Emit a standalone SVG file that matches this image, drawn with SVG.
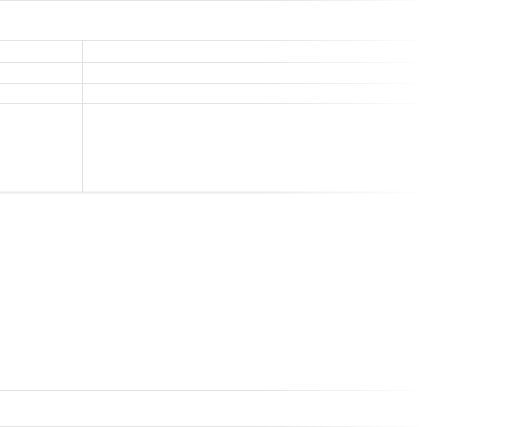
<svg xmlns="http://www.w3.org/2000/svg" width="521" height="427" viewBox="0 0 521 427">
<defs>
<linearGradient id="fade" gradientUnits="userSpaceOnUse" x1="0" y1="0" x2="521" y2="0">
<stop offset="0" stop-color="#e3e3e3" stop-opacity="1"/>
<stop offset="0.5" stop-color="#e3e3e3" stop-opacity="1"/>
<stop offset="0.82" stop-color="#e3e3e3" stop-opacity="0"/>
</linearGradient>
<style>
.ln{stroke:url(#fade);stroke-width:1;fill:none}
.thick{stroke-width:2;opacity:0.7}
.vl{stroke:#e0e0e0;stroke-width:1}
</style>
</defs>
<rect width="521" height="427" fill="#ffffff"/>
<g id="connectors">
<line class="ln" x1="0" y1="0.5" x2="521" y2="0.5"/>
<line class="ln" x1="0" y1="40.5" x2="521" y2="40.5"/>
<line class="ln" x1="0" y1="62.5" x2="521" y2="62.5"/>
<line class="ln" x1="0" y1="83.5" x2="521" y2="83.5"/>
<line class="ln" x1="0" y1="103.5" x2="521" y2="103.5"/>
<line class="ln thick" x1="0" y1="192.5" x2="521" y2="192.5"/>
<line class="vl" x1="82.5" y1="40" x2="82.5" y2="192"/>
<line class="ln" x1="0" y1="390.5" x2="521" y2="390.5"/>
<line class="ln" x1="0" y1="426.5" x2="521" y2="426.5"/>
</g>
</svg>
